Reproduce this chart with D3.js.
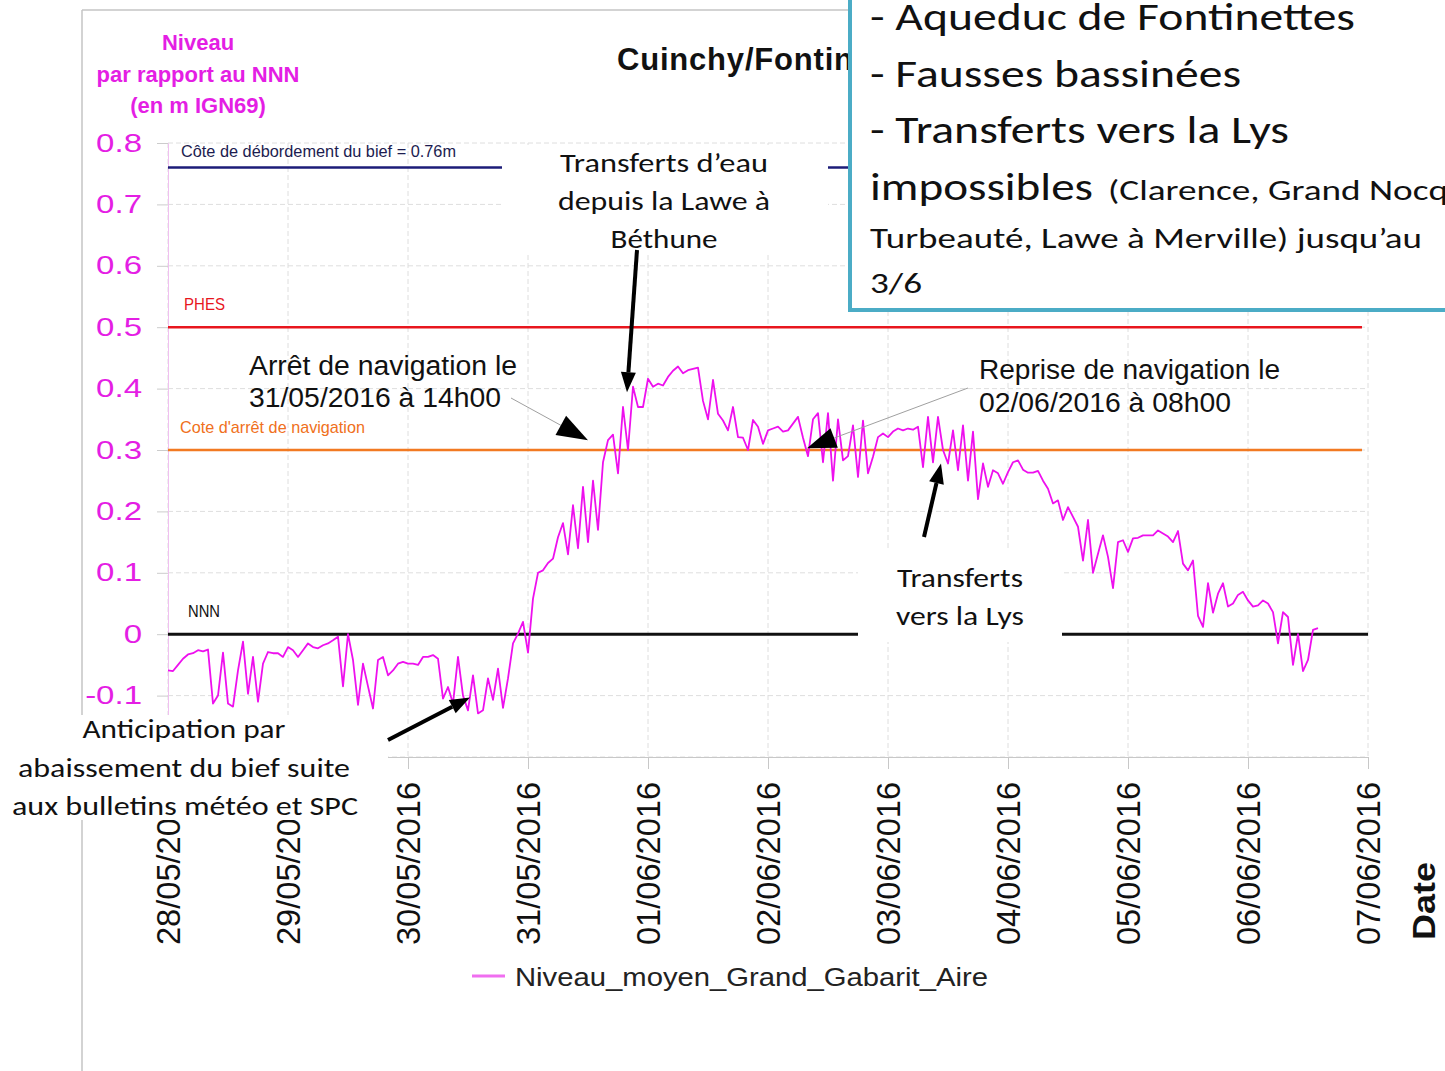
<!DOCTYPE html>
<html>
<head>
<meta charset="utf-8">
<script src="https://cdn.jsdelivr.net/npm/d3@7"></script>
<style>
  body { margin: 0; background: #fff; }
  svg { display: block; }
</style>
</head>
<body>
<svg id="chart" width="1445" height="1071"></svg>
<script>
// hourly mean level (m, relative to NNN), one array per day starting 00:00
const may28 = [-0.059, -0.06, -0.05, -0.04, -0.033, -0.031, -0.026, -0.028, -0.025, -0.113, -0.10, -0.03,
  -0.113, -0.118, -0.059, -0.012, -0.097, -0.037, -0.11, -0.048, -0.029, -0.031, -0.031, -0.037];
const may29 = [-0.021, -0.026, -0.037, -0.026, -0.015, -0.021, -0.023, -0.018, -0.015, -0.01, -0.004, -0.085,
  0.0, -0.042, -0.115, -0.048, -0.085, -0.121, -0.042, -0.037, -0.067, -0.059, -0.048, -0.045];
const may30 = [-0.048, -0.048, -0.05, -0.037, -0.037, -0.034, -0.04, -0.105, -0.086, -0.113, -0.037, -0.1,
  -0.124, -0.067, -0.129, -0.124, -0.072, -0.107, -0.056, -0.12, -0.072, -0.015, 0.001, 0.02];
const may31 = [-0.03, 0.058, 0.10, 0.104, 0.116, 0.123, 0.158, 0.181, 0.13, 0.21, 0.14, 0.24,
  0.15, 0.25, 0.17, 0.28, 0.316, 0.325, 0.262, 0.37, 0.30, 0.403, 0.37, 0.37];
const jun01 = [0.416, 0.403, 0.408, 0.405, 0.419, 0.429, 0.436, 0.425, 0.43, 0.432, 0.434, 0.38,
  0.35, 0.414, 0.359, 0.348, 0.332, 0.37, 0.321, 0.32, 0.30, 0.349, 0.338, 0.31];
const jun02 = [0.332, 0.335, 0.338, 0.33, 0.332, 0.343, 0.354, 0.32, 0.29, 0.35, 0.36, 0.28,
  0.36, 0.25, 0.35, 0.283, 0.29, 0.34, 0.256, 0.348, 0.262, 0.289, 0.321, 0.327];
const jun03 = [0.321, 0.33, 0.335, 0.332, 0.335, 0.333, 0.338, 0.272, 0.354, 0.28, 0.354, 0.30,
  0.278, 0.332, 0.267, 0.34, 0.25, 0.33, 0.22, 0.278, 0.24, 0.267, 0.262, 0.245];
const jun04 = [0.264, 0.28, 0.283, 0.268, 0.263, 0.263, 0.266, 0.25, 0.237, 0.213, 0.218, 0.186,
  0.207, 0.191, 0.175, 0.12, 0.186, 0.10, 0.131, 0.161, 0.126, 0.075, 0.15, 0.153];
const jun05 = [0.134, 0.156, 0.157, 0.161, 0.161, 0.161, 0.169, 0.164, 0.159, 0.15, 0.168, 0.115,
  0.104, 0.12, 0.03, 0.012, 0.083, 0.035, 0.066, 0.083, 0.045, 0.05, 0.064, 0.069];
const jun06 = [0.055, 0.045, 0.047, 0.055, 0.05, 0.036, -0.015, 0.036, 0.028, -0.05, 0.0, -0.06,
  -0.042, 0.007, 0.01];

const dayLabels = ["28/05/2016", "29/05/2016", "30/05/2016", "31/05/2016", "01/06/2016",
  "02/06/2016", "03/06/2016", "04/06/2016", "05/06/2016", "06/06/2016", "07/06/2016"];
const yLabels = [-0.1, 0, 0.1, 0.2, 0.3, 0.4, 0.5, 0.6, 0.7, 0.8];
const yGrid = [-0.2, -0.1, 0, 0.1, 0.2, 0.3, 0.4, 0.5, 0.6, 0.7, 0.8];
const refLevels = [0.76, 0.5, 0.3, 0];
const refNames = ["Côte de débordement du bief = 0.76m", "PHES", "Cote d'arrêt de navigation", "NNN"];
const seriesName = "Niveau_moyen_Grand_Gabarit_Aire";

const parseDay = d3.timeParse("%d/%m/%Y");
const start = parseDay(dayLabels[0]);
const days = dayLabels.map(parseDay);
const series = [may28, may29, may30, may31, jun01, jun02, jun03, jun04, jun05, jun06]
  .flat()
  .map((v, i) => ({ t: d3.timeHour.offset(start, i), v }));

const svg = d3.select("#chart");
const sans = "'Liberation Sans', Arial, sans-serif";
const cal = "Carlito, Lato, sans-serif";
const magenta = "#ee10ee";

const x = d3.scaleTime().domain([days[0], days[days.length - 1]]).range([168, 1368]);
const y = d3.scaleLinear().domain([-0.2, 0.8]).range([757, 143]);

function fit(sel, len) {
  return sel.attr("textLength", len).attr("lengthAdjust", "spacingAndGlyphs");
}

// frame of the pasted chart
svg.append("line").attr("x1", 82).attr("x2", 82).attr("y1", 10).attr("y2", 1071)
  .attr("stroke", "#c4c4c4").attr("stroke-width", 1.5);
svg.append("line").attr("x1", 82).attr("x2", 1445).attr("y1", 10).attr("y2", 10)
  .attr("stroke", "#c4c4c4").attr("stroke-width", 1.5);

// grid
const grid = svg.append("g").attr("stroke", "#dedede").attr("stroke-dasharray", "5,3");
grid.selectAll(".hg").data(yGrid).join("line")
  .attr("x1", 168).attr("x2", 1368).attr("y1", (d) => y(d)).attr("y2", (d) => y(d));
grid.selectAll(".vg").data(days).join("line")
  .attr("x1", (d) => x(d)).attr("x2", (d) => x(d)).attr("y1", y(0.8)).attr("y2", y(-0.2));

// y axis
const yAxis = svg.append("g")
  .attr("transform", `translate(${x(days[0])},0)`)
  .call(d3.axisLeft(y).tickValues(yLabels).tickSize(11).tickPadding(15)
    .tickFormat((d) => (d === 0 ? "0" : d.toFixed(1))));
yAxis.select(".domain").attr("stroke", "#f0c0f0");
yAxis.selectAll(".tick line").attr("stroke", "#cccccc");
yAxis.selectAll(".tick text")
  .attr("fill", "#e41ee4").attr("font-family", sans).attr("font-size", 25)
  .each(function () {
    const w = this.getComputedTextLength();
    fit(d3.select(this), w * 1.32);
  });

// x axis, labels read bottom-to-top and end 188px under the axis
const xAxis = svg.append("g")
  .attr("transform", `translate(0,${y(-0.2)})`)
  .call(d3.axisBottom(x).tickValues(days).tickSize(12)
    .tickFormat((d, i) => dayLabels[i]));
xAxis.select(".domain").attr("stroke", "#c8c8c8");
xAxis.selectAll(".tick line").attr("stroke", "#c8c8c8");
xAxis.selectAll(".tick text")
  .attr("fill", "#111").attr("font-family", sans).attr("font-size", 33)
  .attr("transform", "rotate(-90)")
  .attr("text-anchor", "start")
  .attr("x", -188).attr("y", 0).attr("dy", "0.36em")
  .attr("textLength", 163).attr("lengthAdjust", "spacingAndGlyphs");

svg.append("text")
  .attr("transform", "translate(1435,940) rotate(-90)")
  .attr("font-family", sans).attr("font-weight", "bold").attr("font-size", 32)
  .attr("fill", "#111").call(fit, 78).text("Date");

// reference levels
const refColors = ["#1c1c78", "#e8161e", "#f27a22", "#111111"];
const refEnds = [1362, 1362, 1362, 1368];
const refWidths = [2.5, 2.5, 2.5, 3];
svg.selectAll(".ref").data(refLevels).join("line")
  .attr("x1", x(days[0])).attr("x2", (d, i) => refEnds[i])
  .attr("y1", (d) => y(d)).attr("y2", (d) => y(d))
  .attr("stroke", (d, i) => refColors[i]).attr("stroke-width", (d, i) => refWidths[i]);

const refLabX = [181, 184, 180, 188];
const refLabY = [157, 310, 433, 617];
const refLabW = [275, 41, 185, 32];
const refLabC = ["#1c1c50", "#e8161e", "#f07020", "#111111"];
svg.selectAll(".reflab").data(refNames).join("text")
  .attr("x", (d, i) => refLabX[i]).attr("y", (d, i) => refLabY[i])
  .attr("font-family", sans).attr("font-size", 17)
  .attr("fill", (d, i) => refLabC[i])
  .attr("textLength", (d, i) => refLabW[i]).attr("lengthAdjust", "spacingAndGlyphs")
  .text((d) => d);

// level series
const line = d3.line().x((d) => x(d.t)).y((d) => y(d.v));
svg.append("path").datum(series)
  .attr("fill", "none").attr("stroke", magenta).attr("stroke-width", 1.8)
  .attr("stroke-linejoin", "round").attr("d", line);

// titles
svg.append("text").attr("x", 617).attr("y", 70)
  .attr("font-family", sans).attr("font-weight", "bold").attr("font-size", 31)
  .attr("letter-spacing", 0.8).attr("fill", "#111").text("Cuinchy/Fontinettes");

const yTitle = ["Niveau", "par rapport au NNN", "(en m IGN69)"];
svg.selectAll(".ytitle").data(yTitle).join("text")
  .attr("x", 198).attr("y", (d, i) => 50 + i * 31.5)
  .attr("text-anchor", "middle").attr("font-family", sans).attr("font-weight", "bold")
  .attr("font-size", 22).attr("fill", "#e41ee4").text((d) => d);

// legend
svg.append("line").attr("x1", 472).attr("x2", 505).attr("y1", 976).attr("y2", 976)
  .attr("stroke", "#f06ef0").attr("stroke-width", 3);
svg.append("text").attr("x", 515).attr("y", 986)
  .attr("font-family", sans).attr("font-size", 25).attr("fill", "#222")
  .call(fit, 473).text(seriesName);

// annotations
function arrow(x1, y1, x2, y2, o) {
  const a = Math.atan2(y2 - y1, x2 - x1);
  const bx = x2 - o.len * Math.cos(a), by = y2 - o.len * Math.sin(a);
  const hx = (o.w / 2) * Math.sin(a), hy = (o.w / 2) * Math.cos(a);
  svg.append("line").attr("x1", x1).attr("y1", y1).attr("x2", bx).attr("y2", by)
    .attr("stroke", o.color).attr("stroke-width", o.sw);
  svg.append("path")
    .attr("d", `M${x2},${y2}L${bx + hx},${by - hy}L${bx - hx},${by + hy}Z`)
    .attr("fill", "#000");
}

function block(lines, opts) {
  const g = svg.append("g");
  if (opts.box) {
    g.append("rect").attr("x", opts.box[0]).attr("y", opts.box[1])
      .attr("width", opts.box[2]).attr("height", opts.box[3]).attr("fill", "#fff");
  }
  lines.forEach((l) => {
    g.append("text").attr("x", l[0]).attr("y", l[1])
      .attr("text-anchor", opts.anchor || "start")
      .attr("font-family", opts.font).attr("font-size", opts.size).attr("fill", "#111")
      .call(fit, l[3]).text(l[2]);
  });
}

// Transferts d'eau
block([
  [664, 172, "Transferts d’eau", 208],
  [664, 210, "depuis la Lawe à", 212],
  [664, 248, "Béthune", 107],
], { box: [502, 145, 326, 110], anchor: "middle", font: cal, size: 27 });
arrow(637, 250, x(new Date(2016, 4, 31, 19, 48)), y(0.394), { color: "#000", sw: 4, len: 20, w: 15 });

// Arrêt de navigation
block([
  [249, 375, "Arrêt de navigation le", 268],
  [249, 407, "31/05/2016 à 14h00", 252],
], { font: sans, size: 27 });
arrow(511, 398, x(new Date(2016, 4, 31, 12, 0)), y(0.316), { color: "#a0a0a0", sw: 1, len: 31, w: 22 });

// Reprise de navigation
block([
  [979, 379, "Reprise de navigation le", 301],
  [979, 412, "02/06/2016 à 08h00", 252],
], { font: sans, size: 27 });
arrow(968, 388, x(new Date(2016, 5, 2, 7, 48)), y(0.303), { color: "#a0a0a0", sw: 1, len: 29, w: 21 });

// Transferts vers la Lys
block([
  [960, 587, "Transferts", 126],
  [960, 625, "vers la Lys", 128],
], { box: [858, 548, 204, 94], anchor: "middle", font: cal, size: 27 });
arrow(924, 537, x(new Date(2016, 5, 3, 10, 36)), y(0.278), { color: "#000", sw: 4, len: 20, w: 15 });

// Anticipation
block([
  [184, 738, "Anticipation par", 203],
  [184, 777, "abaissement du bief suite", 332],
  [185, 815, "aux bulletins météo et SPC", 346],
], { box: [0, 715, 388, 105], anchor: "middle", font: cal, size: 27 });
arrow(388, 740, x(new Date(2016, 4, 30, 12, 24)), y(-0.103), { color: "#000", sw: 4, len: 20, w: 15 });

// top-right note box
svg.append("rect").attr("x", 850).attr("y", -10).attr("width", 620).attr("height", 320)
  .attr("fill", "#fff").attr("stroke", "#4bacc6").attr("stroke-width", 4);
const noteBig = [
  [870, 30, "- Aqueduc de Fontinettes", 485],
  [870, 87, "- Fausses bassinées", 371],
  [870, 143, "- Transferts vers la Lys", 419],
  [870, 200, "impossibles", 223],
];
noteBig.forEach((l) => {
  svg.append("text").attr("x", l[0]).attr("y", l[1])
    .attr("font-family", cal).attr("font-size", 38).attr("fill", "#111")
    .call(fit, l[3]).text(l[2]);
});
const noteSmall = [
  [1108, 200, "(Clarence, Grand Nocq", 340],
  [870, 248, "Turbeauté, Lawe à Merville) jusqu’au", 552],
  [870, 293, "3/6", 52],
];
noteSmall.forEach((l) => {
  svg.append("text").attr("x", l[0]).attr("y", l[1])
    .attr("font-family", cal).attr("font-size", 28).attr("fill", "#111")
    .call(fit, l[3]).text(l[2]);
});
</script>
</body>
</html>
